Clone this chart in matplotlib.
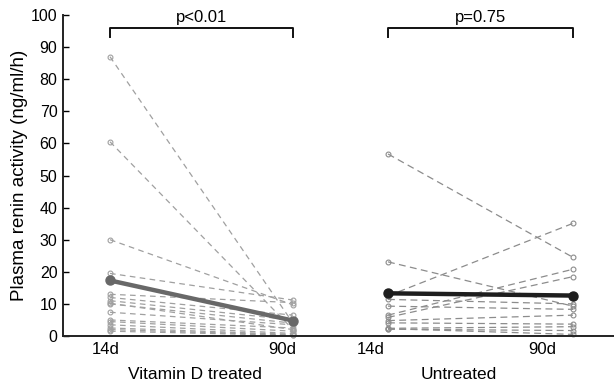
import matplotlib
matplotlib.use("Agg")
import matplotlib.pyplot as plt

plt.rcParams['font.family'] = ['Liberation Sans', 'DejaVu Sans']

# Data (ng/ml/h)
vitd_14d = [87, 60.5, 30, 19.5, 13, 12, 11, 10, 10.2, 7.4, 5, 4.5, 3.5, 2.5, 2, 1.5]
vitd_90d = [4, 2, 9.7, 11.2, 10.4, 6.5, 5, 4, 2, 3.5, 2.5, 1.5, 0.8, 0.5, 0.3, 0.2]
untr_14d = [56.7, 23.1, 12.5, 11.4, 9.3, 6.5, 5.8, 4.8, 4.1, 2.4, 2.1, 2.3]
untr_90d = [24.5, 9.3, 35.1, 10, 8.3, 20.8, 18.5, 6.5, 3.7, 2.9, 1.7, 0.5]
vitd_mean = [17.3, 4.8]
untr_mean = [13.3, 12.6]
p_values = ["p<0.01", "p=0.75"]
group_labels = ["Vitamin D treated", "Untreated"]
tick_labels = ["14d", "90d", "14d", "90d"]

pos_vitd = [1.0, 2.0]
pos_untr = [2.519, 3.53]

fig = plt.figure(figsize=(6.14, 3.83), dpi=100)
ax = fig.add_axes([0.1026, 0.1227, 0.8974, 0.8381])

for a, b in zip(vitd_14d, vitd_90d):
    ax.plot(pos_vitd, [a, b], ls=(0, (4.5, 3.5)), color='#a0a0a0', lw=0.9,
            marker='o', ms=3.5, mfc='none', mec='#a0a0a0', mew=0.8, clip_on=False)
for a, b in zip(untr_14d, untr_90d):
    ax.plot(pos_untr, [a, b], ls=(0, (5.5, 3.5)), color='#8c8c8c', lw=0.9,
            marker='o', ms=3.5, mfc='none', mec='#8c8c8c', mew=0.8, clip_on=False)

ax.plot(pos_vitd, vitd_mean, color='#686868', lw=3.2, marker='o', ms=6.5, zorder=5)
ax.plot(pos_untr, untr_mean, color='#1e1e1e', lw=3.2, marker='o', ms=6.5, zorder=5)

# significance brackets
for (x0, x1), p in zip([pos_vitd, pos_untr], p_values):
    ax.plot([x0, x0, x1, x1], [93.1, 96, 96, 93.1], color='#111111', lw=1.4, clip_on=False)
    ax.text((x0 + x1) / 2, 97.0, p, ha='center', va='bottom', fontsize=12, clip_on=False)

ax.set_xlim(0.743, 3.754)
ax.set_ylim(0, 100)
ax.set_yticks(range(0, 101, 10))
ax.tick_params(axis='y', direction='in', length=4, width=1, labelsize=11.5, pad=4)
ax.set_xticks([0.978, 1.94, 2.426, 3.36])
ax.set_xticklabels(tick_labels)
ax.tick_params(axis='x', length=0, labelsize=12, pad=4)

for gx, g in zip([1.464, 2.907], group_labels):
    ax.text(gx, -9.8, g, ha='center', va='top', fontsize=12.5, transform=ax.transData)

ax.spines['top'].set_visible(False)
ax.spines['right'].set_visible(False)
for s in ['left', 'bottom']:
    ax.spines[s].set_linewidth(1.4)
    ax.spines[s].set_color('#222222')

ax.set_ylabel("Plasma renin activity (ng/ml/h)", fontsize=13.5, labelpad=2)

fig.savefig("out.png", dpi=100)
